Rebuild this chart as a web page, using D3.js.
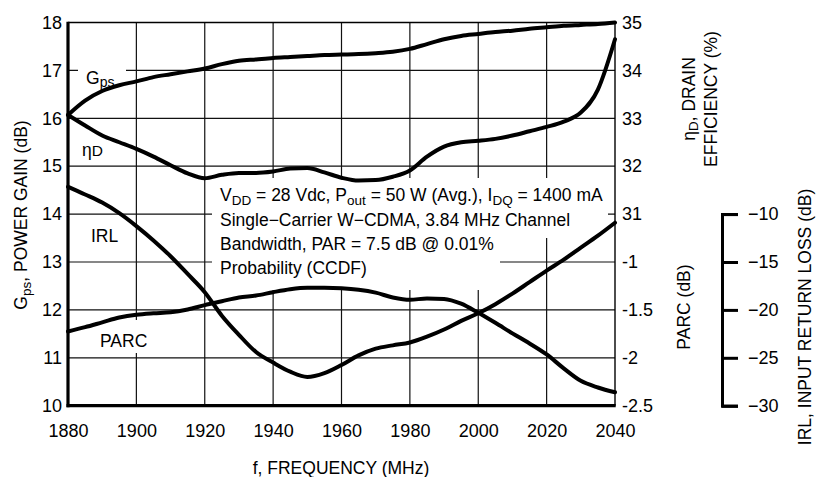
<!DOCTYPE html>
<html><head><meta charset="utf-8">
<script src="https://cdn.jsdelivr.net/npm/d3@7"></script>
<style>
body{margin:0;background:#fff}
text{font-family:"Liberation Sans",Arial,Helvetica,sans-serif;fill:#000}
</style>
</head><body>
<svg id="c" width="817" height="477"></svg>
<script>
// ---- data ----
const freq = [1880,1885,1890,1895,1900,1905,1910,1915,1920,1925,1930,1935,1940,1945,1950,1955,1960,1965,1970,1975,1980,1985,1990,1995,2000,2005,2010,2015,2020,2025,2030,2035,2040];
const gps  = [16.07,16.37,16.57,16.69,16.77,16.86,16.92,16.98,17.04,17.13,17.20,17.23,17.26,17.28,17.30,17.32,17.33,17.34,17.36,17.39,17.45,17.55,17.65,17.72,17.76,17.80,17.83,17.87,17.90,17.93,17.95,17.97,18.00];
const eff  = [33.07,32.85,32.64,32.50,32.36,32.20,32.02,31.85,31.75,31.82,31.86,31.86,31.89,31.95,31.96,31.87,31.76,31.70,31.71,31.78,31.91,32.20,32.41,32.50,32.53,32.57,32.64,32.73,32.82,32.93,33.12,33.60,34.65];
const irl  = [-7.15,-7.95,-8.8,-9.9,-11.25,-12.75,-14.4,-16.25,-18.15,-20.6,-22.6,-24.4,-25.5,-26.45,-27.0,-26.6,-25.75,-24.75,-24.05,-23.7,-23.4,-22.8,-22.05,-21.15,-20.35,-19.4,-18.3,-17.1,-15.9,-14.75,-13.5,-12.25,-10.9];
const parc = [-1.725,-1.68,-1.63,-1.58,-1.55,-1.535,-1.525,-1.495,-1.45,-1.41,-1.37,-1.35,-1.315,-1.285,-1.27,-1.27,-1.275,-1.29,-1.32,-1.37,-1.395,-1.38,-1.385,-1.435,-1.53,-1.635,-1.745,-1.85,-1.965,-2.11,-2.24,-2.31,-2.36];

const xTicks    = [1880,1900,1920,1940,1960,1980,2000,2020,2040];
const gainTicks = [10,11,12,13,14,15,16,17,18];
const effTicks  = [31,32,33,34,35];
const parcTicks = [-1,-1.5,-2,-2.5];
const parcLabels = ["-1","-1.5","-2","-2.5"];
const irlTicks  = [-10,-15,-20,-25,-30];
const irlLabels = ["\u221210","\u221215","\u221220","\u221225","\u221230"];

// ---- layout ----
const L = 68, R = 615, T = 22.5, B = 405.7;
const svg = d3.select("#c");
const x = d3.scaleLinear().domain([1880,2040]).range([L,R]);
const yG = d3.scaleLinear().domain([10,18]).range([B,T]);
const yE = d3.scaleLinear().domain([27,35]).range([B,T]);      // 31..35 aligned with 14..18
const yP = d3.scaleLinear().domain([-2.5,1.5]).range([B,T]);   // -2.5..-1 aligned with 10..13
const yI = d3.scaleLinear().domain([-30,10]).range([B,T]);     // -30..-10 aligned with 10..14

const FS = 18;

// gridlines
const grid = svg.append("g").attr("stroke","#111").attr("stroke-width",1.2);
grid.selectAll(".v").data(xTicks.slice(1,-1)).enter().append("line")
  .attr("x1",d=>x(d)).attr("x2",d=>x(d)).attr("y1",T).attr("y2",B);
grid.selectAll(".h").data(gainTicks.slice(1,-1)).enter().append("line")
  .attr("x1",L).attr("x2",R).attr("y1",d=>yG(d)).attr("y2",d=>yG(d));

// white masks behind labels
const masks = [[212,178,288,112],[212,178,396,60],[78,62,48,18],[98,320,52,33]];
svg.append("g").selectAll("rect").data(masks).enter().append("rect")
  .attr("x",d=>d[0]).attr("y",d=>d[1]).attr("width",d=>d[2]).attr("height",d=>d[3]).attr("fill","#fff");

// frame
svg.append("line").attr("x1",L).attr("x2",R).attr("y1",T).attr("y2",T).attr("stroke","#000").attr("stroke-width",1.4);
svg.append("line").attr("x1",R).attr("x2",R).attr("y1",T).attr("y2",B).attr("stroke","#000").attr("stroke-width",1.4);

// curves
const mk = (ys, sc) => d3.line().curve(d3.curveMonotoneX).x((d,i)=>x(freq[i])).y(d=>sc(d))(ys);
const curves = [[gps,yG],[eff,yE],[irl,yI],[parc,yP]];
svg.append("g").selectAll("path").data(curves).enter().append("path")
  .attr("d",d=>mk(d[0],d[1])).attr("fill","none").attr("stroke","#000")
  .attr("stroke-width",4).attr("stroke-linejoin","round").attr("stroke-linecap","round");

// thick left & bottom axes
svg.append("line").attr("x1",L).attr("x2",L).attr("y1",T-0.7).attr("y2",B+1.5).attr("stroke","#000").attr("stroke-width",3.2);
svg.append("line").attr("x1",L-1.5).attr("x2",R+0.7).attr("y1",B).attr("y2",B).attr("stroke","#000").attr("stroke-width",3.2);

// axes via d3 (labels only)
const ax = d3.axisBottom(x).tickValues(xTicks).tickSize(0).tickPadding(0).tickFormat(d3.format("d"));
const gx = svg.append("g").attr("transform",`translate(0,${B})`).call(ax);
gx.select(".domain").remove();
gx.selectAll("text").attr("dy",null).attr("y",31).style("font-size",FS+"px").attr("fill","#000");

const ayl = d3.axisLeft(yG).tickValues(gainTicks).tickSize(0).tickPadding(0);
const gyl = svg.append("g").attr("transform",`translate(${L-6},0)`).call(ayl);
gyl.select(".domain").remove();
gyl.selectAll("text").style("font-size",FS+"px").attr("fill","#000");

const aye = d3.axisRight(yE).tickValues(effTicks).tickSize(0).tickPadding(0);
const gye = svg.append("g").attr("transform",`translate(${R+7},0)`).call(aye);
gye.select(".domain").remove();
gye.selectAll("text").style("font-size",FS+"px").attr("fill","#000");

const ayp = d3.axisRight(yP).tickValues(parcTicks).tickSize(0).tickPadding(0).tickFormat((d,i)=>parcLabels[i]);
const gyp = svg.append("g").attr("transform",`translate(${R+7},0)`).call(ayp);
gyp.select(".domain").remove();
gyp.selectAll("text").style("font-size",FS+"px").attr("fill","#000");

// separate IRL axis
const irlScale = d3.scaleLinear().domain([-30,-10]).range([yI(-30),yI(-10)]);
const ayi = d3.axisRight(irlScale).tickValues(irlTicks).tickSize(16).tickSizeOuter(16).tickPadding(10).tickFormat((d,i)=>irlLabels[i]);
const gyi = svg.append("g").attr("transform","translate(722,0)").call(ayi);
gyi.selectAll("path,line").attr("stroke","#000").attr("stroke-width",3);
gyi.selectAll("text").style("font-size",FS+"px").attr("fill","#000");

// text helper with subscripts
function rich(g, x0, y0, parts, size, anchor){
  const t = g.append("text").attr("x",x0).attr("y",y0).style("font-size",size+"px");
  if(anchor) t.attr("text-anchor",anchor);
  parts.forEach(p=>{
    if(typeof p === "string") t.append("tspan").text(p);
    else t.append("tspan").attr("dy",p.dy).style("font-size",p.s+"px").text(p.t);
  });
  return t;
}
const F2 = 17.5, SUB = 13.5;

// annotation
const ann = svg.append("g");
rich(ann,220,201,["V",{t:"DD",s:SUB,dy:4},{t:" = 28 Vdc, P",s:F2,dy:-4},{t:"out",s:SUB,dy:4},{t:" = 50 W (Avg.), I",s:F2,dy:-4},{t:"DQ",s:SUB,dy:4},{t:" = 1400 mA",s:F2,dy:-4}],F2);
rich(ann,220,225.5,["Single\u2212Carrier W\u2212CDMA, 3.84 MHz Channel"],F2);
rich(ann,220,249.5,["Bandwidth, PAR = 7.5 dB @ 0.01%"],F2);
rich(ann,220,273.5,["Probability (CCDF)"],F2);

// curve labels
rich(svg,86,84,["G",{t:"ps",s:14,dy:2.5}],F2);
rich(svg,82,156,["\u03b7",{t:"D",s:15.5,dy:0}],F2);
rich(svg,91,241.5,["IRL"],F2);
rich(svg,100,346.5,["PARC"],F2);

// axis titles
rich(svg,341,474,["f, FREQUENCY (MHz)"],F2,"middle");
const lt = svg.append("g").attr("transform","translate(27,215) rotate(-90)");
rich(lt,0,0,["G",{t:"ps",s:SUB,dy:4},{t:", POWER GAIN (dB)",s:F2,dy:-4}],F2,"middle");
const rt1 = svg.append("g").attr("transform","translate(695,99) rotate(-90)");
rich(rt1,0,0,["\u03b7",{t:"D",s:SUB,dy:3},{t:", DRAIN",s:F2,dy:-3}],F2,"middle");
const rt2 = svg.append("g").attr("transform","translate(717,99) rotate(-90)");
rich(rt2,0,0,["EFFICIENCY (%)"],F2,"middle");
const rt3 = svg.append("g").attr("transform","translate(690,307) rotate(-90)");
rich(rt3,0,0,["PARC (dB)"],F2,"middle");
const rt4 = svg.append("g").attr("transform","translate(811,317) rotate(-90)");
rich(rt4,0,0,["IRL, INPUT RETURN LOSS (dB)"],F2,"middle");
</script>
</body></html>
